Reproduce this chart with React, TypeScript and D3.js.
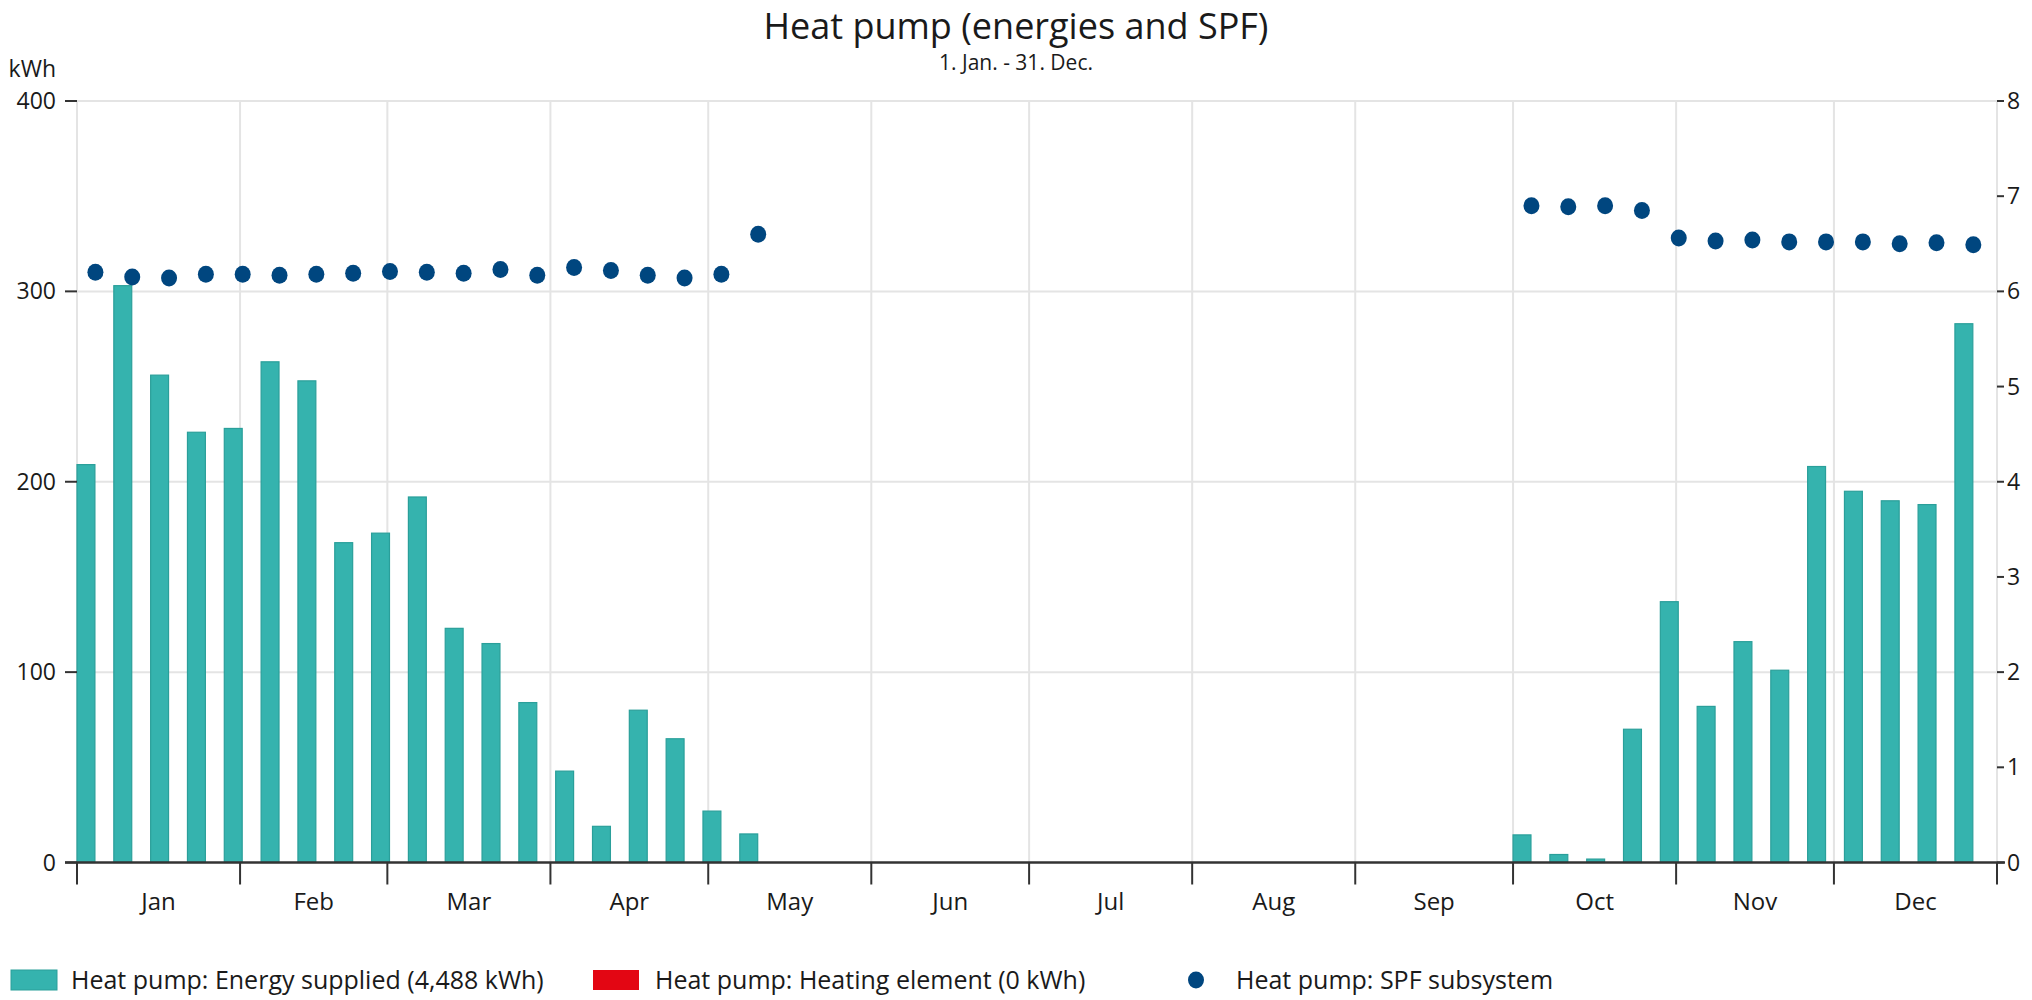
import React from "react";
import * as d3 from "d3";

const WIDTH = 2032;
const HEIGHT = 1000;

const title = "Heat pump (energies and SPF)";
const subtitle = "1. Jan. - 31. Dec.";
const leftUnit = "kWh";

const monthLabels = ["Jan", "Feb", "Mar", "Apr", "May", "Jun", "Jul", "Aug", "Sep", "Oct", "Nov", "Dec"];
const leftTicks = [0, 100, 200, 300, 400];
const rightTicks = [0, 1, 2, 3, 4, 5, 6, 7, 8];

// weekly values (52 weeks starting 1 Jan)
const energySupplied = [
  209, 303, 256, 226, 228, 263, 253, 168, 173, 192, 123, 115, 84, 48, 19, 80, 65, 27, 15,
  0, 0, 0, 0, 0, 0, 0, 0, 0, 0, 0, 0, 0, 0, 0, 0, 0, 0, 0, 0,
  14.5, 4.2, 1.8, 70, 137, 82, 116, 101, 208, 195, 190, 188, 283,
];
const heatingElement = [
  0, 0, 0, 0, 0, 0, 0, 0, 0, 0, 0, 0, 0, 0, 0, 0, 0, 0, 0,
  0, 0, 0, 0, 0, 0, 0, 0, 0, 0, 0, 0, 0, 0, 0, 0, 0, 0, 0, 0,
  0, 0, 0, 0, 0, 0, 0, 0, 0, 0, 0, 0, 0,
];
const spf: (number | null)[] = [
  6.2, 6.15, 6.14, 6.18, 6.18, 6.17, 6.18, 6.19, 6.21, 6.2, 6.19, 6.23, 6.17, 6.25, 6.22, 6.17, 6.14, 6.18, 6.6,
  null, null, null, null, null, null, null, null, null, null, null, null, null, null, null, null, null, null, null, null,
  6.9, 6.89, 6.9, 6.85, 6.56, 6.53, 6.54, 6.52, 6.52, 6.52, 6.5, 6.51, 6.49,
];

const legendItems = [
  { label: "Heat pump: Energy supplied (4,488 kWh)", kind: "bar", color: "#35b3ae" },
  { label: "Heat pump: Heating element (0 kWh)", kind: "bar", color: "#e30613" },
  { label: "Heat pump: SPF subsystem", kind: "dot", color: "#00467f" },
];

const FONT = "'Open Sans', 'Noto Sans', sans-serif";
const BAR = "#35b3ae";
const BAR_EDGE = "#2a9f9a";
const DOT = "#00467f";
const GRID = "#e4e4e4";
const AXIS = "#333333";

export default function App() {
  const year0 = new Date(2023, 0, 1);
  const year1 = new Date(2024, 0, 1);
  const left = 77;
  const right = 1997;
  const top = 101;
  const bottom = 862.5;

  const x = d3.scaleTime().domain([year0, year1]).range([left, right]);
  const yL = d3.scaleLinear().domain([0, 400]).range([bottom, top]);
  const yR = d3.scaleLinear().domain([0, 8]).range([bottom, top]);

  const monthStarts = d3.timeMonth.range(year0, d3.timeMonth.offset(year1, 1));
  const weekStart = (i: number) => d3.timeDay.offset(year0, 7 * i);
  const weekW = x(weekStart(1)) - x(weekStart(0));
  const barW = weekW / 2 - 0.5;

  return (
    <svg width={WIDTH} height={HEIGHT} style={{ display: "block", position: "absolute", left: 0, top: 0, background: "#fff" }} fontFamily={FONT}>
      <rect x={0} y={0} width={WIDTH} height={HEIGHT} fill="#fff" />
      {/* title */}
      <text x={WIDTH / 2} y={39} textAnchor="middle" fontSize={36} fill="#1a1a1a">{title}</text>
      <text x={WIDTH / 2} y={70} textAnchor="middle" fontSize={21} fill="#1a1a1a">{subtitle}</text>
      <text x={56} y={77} textAnchor="end" fontSize={23} fill="#1a1a1a">{leftUnit}</text>

      {/* gridlines */}
      {leftTicks.filter((t) => t > 0).map((t) => (
        <line key={"h" + t} x1={left} x2={right} y1={yL(t)} y2={yL(t)} stroke={GRID} strokeWidth={2} />
      ))}
      {monthStarts.map((m, i) => (
        <line key={"v" + i} x1={x(m)} x2={x(m)} y1={top} y2={bottom} stroke={GRID} strokeWidth={2} />
      ))}

      {/* bars */}
      {energySupplied.map((v, i) => (
        <rect
          key={"b" + i}
          x={x(weekStart(i))}
          y={yL(v)}
          width={barW}
          height={bottom - yL(v)}
          fill={BAR}
          stroke={v > 0 ? BAR_EDGE : "none"}
          strokeWidth={1.2}
        />
      ))}
      {heatingElement.map((v, i) =>
        v > 0 ? (
          <rect key={"e" + i} x={x(weekStart(i)) + barW} y={yL(v)} width={barW} height={bottom - yL(v)} fill="#e30613" />
        ) : null
      )}

      {/* x axis */}
      <line x1={65} x2={2005} y1={bottom} y2={bottom} stroke={AXIS} strokeWidth={2.5} />
      {monthStarts.map((m, i) => (
        <line key={"t" + i} x1={x(m)} x2={x(m)} y1={bottom} y2={bottom + 22} stroke={AXIS} strokeWidth={2} />
      ))}
      {monthLabels.map((lab, i) => {
        const a = monthStarts[i];
        const b = monthStarts[i + 1];
        return (
          <text key={"m" + i} x={(x(a) + x(b)) / 2} y={910} textAnchor="middle" fontSize={24} fill="#1a1a1a">{lab}</text>
        );
      })}

      {/* left axis */}
      {leftTicks.map((t) => (
        <g key={"l" + t}>
          <line x1={65} x2={77} y1={yL(t)} y2={yL(t)} stroke={AXIS} strokeWidth={2} />
          <text x={56} y={yL(t)} dy="0.35em" textAnchor="end" fontSize={23} fill="#1a1a1a">{t}</text>
        </g>
      ))}
      {/* right axis */}
      {rightTicks.map((t) => (
        <g key={"r" + t}>
          <line x1={1997} x2={2004} y1={yR(t)} y2={yR(t)} stroke={AXIS} strokeWidth={2} />
          <text x={2007} y={yR(t)} dy="0.35em" textAnchor="start" fontSize={23} fill="#1a1a1a">{t}</text>
        </g>
      ))}

      {/* SPF dots */}
      {spf.map((v, i) =>
        v == null ? null : (
          <ellipse key={"d" + i} cx={x(weekStart(i)) + weekW / 2} cy={yR(v)} rx={8} ry={8.5} fill={DOT} />
        )
      )}

      {/* legend */}
      {legendItems.map((it, i) => {
        const sx = [11, 593, 1188][i];
        const tx = [71, 655, 1236][i];
        const cy = 980;
        return (
          <g key={"lg" + i}>
            {it.kind === "bar" ? (
              <rect x={sx} y={cy - 10} width={46} height={20} fill={it.color} stroke={i === 0 ? BAR_EDGE : "none"} />
            ) : (
              <ellipse cx={sx + 8} cy={cy} rx={8} ry={8.5} fill={it.color} />
            )}
            <text x={tx} y={cy} dy="0.35em" fontSize={25} fill="#1a1a1a">{it.label}</text>
          </g>
        );
      })}
    </svg>
  );
}
